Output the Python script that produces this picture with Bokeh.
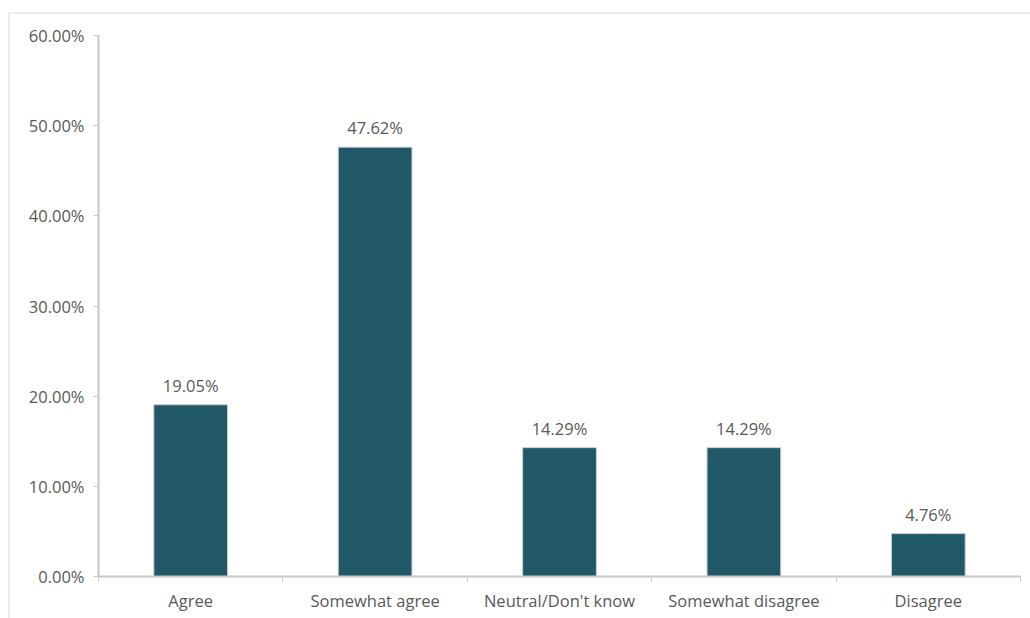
from bokeh.plotting import figure
from bokeh.models import ColumnDataSource, FixedTicker, NumeralTickFormatter, Range1d, LabelSet
from bokeh.core.properties import value
from bokeh.embed import file_html
from bokeh.resources import INLINE

categories = ["Agree", "Somewhat agree", "Neutral/Don't know", "Somewhat disagree", "Disagree"]
values = [0.1905, 0.4762, 0.1429, 0.1429, 0.0476]
labels = ["19.05%", "47.62%", "14.29%", "14.29%", "4.76%"]
y_ticks = [0.0, 0.1, 0.2, 0.3, 0.4, 0.5, 0.6]

FONT = "Open Sans"
TXT = "#595959"
FS = "16.5px"

xpos = [i + 0.5 for i in range(len(categories))]
src = ColumnDataSource(dict(x=xpos, top=values, label=labels))

p = figure(width=1022, height=606, margin=(12, 0, 0, 8), output_backend="svg",
           toolbar_location=None, x_range=Range1d(0, len(categories)),
           y_range=Range1d(0, 0.6))
p.styles = {"border-top": "2px solid #ececec", "border-left": "2px solid #ececec"}
p.min_border_left = 88
p.min_border_top = 21
p.min_border_right = 12
p.min_border_bottom = 44
p.outline_line_color = None
p.grid.visible = False

p.vbar(x="x", top="top", width=0.4, source=src, fill_color="#215867",
       line_color="#d0d0d0", line_width=1)

p.add_layout(LabelSet(x="x", y="top", text="label", source=src, text_align="center",
                      y_offset=8, text_font=value(FONT), text_font_size=FS,
                      text_color=TXT))

xa = p.xaxis[0]
xa.ticker = FixedTicker(ticks=xpos, minor_ticks=list(range(len(categories) + 1)))
xa.major_label_overrides = {x: c for x, c in zip(xpos, categories)}
xa.major_tick_line_color = None
xa.minor_tick_line_color = "#c8c8c8"
xa.minor_tick_in = 0
xa.minor_tick_out = 5
xa.axis_line_color = "#c8c8c8"
xa.axis_line_width = 2
xa.major_label_text_font = FONT
xa.major_label_text_font_size = FS
xa.major_label_text_color = TXT
xa.major_label_standoff = 6

ya = p.yaxis[0]
ya.ticker = FixedTicker(ticks=y_ticks, minor_ticks=[])
ya.formatter = NumeralTickFormatter(format="0.00%")
ya.axis_line_color = "#c8c8c8"
ya.axis_line_width = 2
ya.major_tick_line_color = "#c8c8c8"
ya.major_tick_in = 0
ya.major_tick_out = 5
ya.minor_tick_line_color = None
ya.major_label_text_font = FONT
ya.major_label_text_font_size = FS
ya.major_label_text_color = TXT
ya.major_label_standoff = 9

open("out.html", "w").write(file_html(p, INLINE))
